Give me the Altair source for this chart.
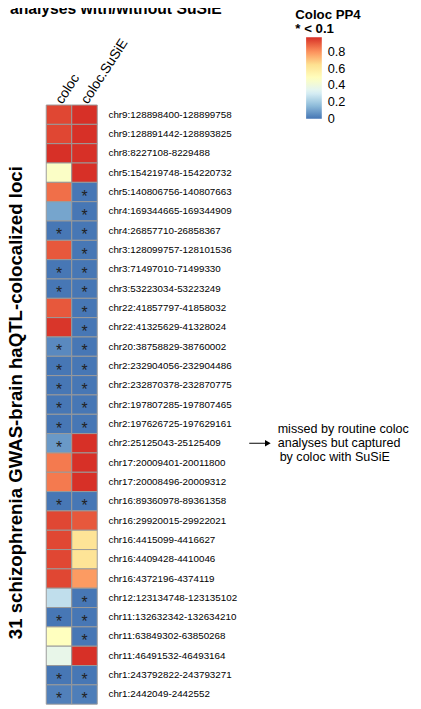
import altair as alt
import pandas as pd

loci = [
    "chr9:128898400-128899758", "chr9:128891442-128893825", "chr8:8227108-8229488",
    "chr5:154219748-154220732", "chr5:140806756-140807663", "chr4:169344665-169344909",
    "chr4:26857710-26858367", "chr3:128099757-128101536", "chr3:71497010-71499330",
    "chr3:53223034-53223249", "chr22:41857797-41858032", "chr22:41325629-41328024",
    "chr20:38758829-38760002", "chr2:232904056-232904486", "chr2:232870378-232870775",
    "chr2:197807285-197807465", "chr2:197626725-197629161", "chr2:25125043-25125409",
    "chr17:20009401-20011800", "chr17:20008496-20009312", "chr16:89360978-89361358",
    "chr16:29920015-29922021", "chr16:4415099-4416627", "chr16:4409428-4410046",
    "chr16:4372196-4374119", "chr12:123134748-123135102", "chr11:132632342-132634210",
    "chr11:63849302-63850268", "chr11:46491532-46493164", "chr1:243792822-243793271",
    "chr1:2442049-2442552",
]
coloc = [0.94, 0.94, 0.98, 0.47, 0.87, 0.105, 0.004, 0.91, 0.004, 0.004, 0.91,
         0.97, 0.045, 0.004, 0.004, 0.004, 0.004, 0.08, 0.85, 0.85, 0.004, 0.94,
         0.94, 0.94, 0.94, 0.26, 0.004, 0.49, 0.37, 0.004, 0.025]
coloc_susie = [0.98, 0.98, 0.98, 0.98, 0.004, 0.004, 0.004, 0.004, 0.004, 0.004,
               0.004, 0.004, 0.004, 0.004, 0.004, 0.004, 0.004, 0.98, 0.98, 0.98,
               0.004, 0.91, 0.63, 0.63, 0.79, 0.004, 0.004, 0.004, 0.98, 0.004, 0.02]
methods = ["coloc", "coloc.SuSiE"]
legend_ticks = [0.001, 0.2, 0.4, 0.6, 0.8]
palette = ["#4575b4", "#91bfdb", "#e0f3f8", "#ffffbf", "#fee090", "#fc8d59", "#d73027"]
threshold = 0.1
highlight_locus = "chr2:25125043-25125409"
note_lines = ["missed by routine coloc", "analyses but captured", "by coloc with SuSiE"]
title_text = "analyses with/without SuSiE"
y_title = "31 schizophrenia GWAS-brain haQTL-colocalized loci"

rows = []
for i, loc in enumerate(loci):
    for m, v in zip(methods, [coloc[i], coloc_susie[i]]):
        rows.append({"locus": loc, "method": m, "pp4": v,
                     "star": "*" if v < threshold else ""})
df = pd.DataFrame(rows)

vmax = max(coloc + coloc_susie)
dom = [vmax * k / 6 for k in range(7)]

FONT = "Liberation Sans"
W, H = 52, 611

X_PLAIN = alt.X("method:N", sort=methods, title=None)
Y_PLAIN = alt.Y("locus:N", sort=loci, title=None)

xenc = alt.X("method:N", sort=methods, title=None,
             axis=alt.Axis(orient="top", labelAngle=-57, labelAlign="left",
                           labelBaseline="middle", labelPadding=3, ticks=False,
                           domain=False, labelFontSize=14, labelFont=FONT,
                           labelColor="black"))
yenc = alt.Y("locus:N", sort=loci, title=None,
             axis=alt.Axis(orient="right", labelAlign="left", labelPadding=11,
                           ticks=False, domain=False, labelFontSize=10,
                           labelFont=FONT, labelColor="black"))

heat = alt.Chart(df).mark_rect(stroke="#9a9a9a", strokeWidth=1).encode(
    x=xenc,
    y=yenc,
    color=alt.Color("pp4:Q",
                    scale=alt.Scale(domain=dom, range=palette, interpolate="rgb"),
                    legend=alt.Legend(title=None, orient="none", legendX=265, legendY=-69,
                                      direction="vertical", gradientLength=83,
                                      gradientThickness=16, values=legend_ticks,
                                      format=".1~f", labelFontSize=13, labelFont=FONT,
                                      labelColor="black", labelOffset=6,
                                      labelOverlap=False, padding=0,
                                      gradientStrokeWidth=0)),
)

stars = alt.Chart(df).mark_text(fontSize=16, font=FONT, color="#222222", dy=5,
                                baseline="middle").encode(
    x=X_PLAIN, y=Y_PLAIN, text="star:N",
)

ann_df = pd.DataFrame({"locus": [highlight_locus]})
arrow_line = alt.Chart(ann_df).mark_rule(color="black", strokeWidth=1).encode(
    y=Y_PLAIN, x=alt.value(207), x2=alt.value(226),
)
arrow_head = alt.Chart(ann_df).mark_point(shape="triangle-right", filled=True,
                                          color="black", size=45, opacity=1).encode(
    y=Y_PLAIN, x=alt.value(226),
)
notes = []
for line, dy, dx in zip(note_lines, [-14, 0, 14], [0, 0, 2]):
    notes.append(
        alt.Chart(ann_df).mark_text(align="left", baseline="middle", fontSize=12.8,
                                    font=FONT, color="black", dy=dy, dx=dx).encode(
            y=Y_PLAIN, x=alt.value(236), text=alt.value(line),
        )
    )

ytitle = alt.Chart(ann_df).mark_text(angle=270, align="center", baseline="middle",
                                     fontSize=19, fontWeight="bold", font=FONT,
                                     color="black").encode(
    x=alt.value(-31), y=alt.value(H / 2 - 2), text=alt.value(y_title))

top_title = alt.Chart(ann_df).mark_text(align="left", baseline="alphabetic",
                                        fontSize=16, fontWeight="bold", font=FONT,
                                        color="black").encode(
    x=alt.value(-37), y=alt.value(-93), text=alt.value(title_text))

leg_t1 = alt.Chart(ann_df).mark_text(align="left", baseline="middle", fontSize=13.5,
                                     fontWeight="bold", font=FONT, color="black").encode(
    x=alt.value(254), y=alt.value(-92), text=alt.value("Coloc PP4"))
leg_t2 = alt.Chart(ann_df).mark_text(align="left", baseline="middle", fontSize=13.5,
                                     fontWeight="bold", font=FONT, color="black").encode(
    x=alt.value(254), y=alt.value(-77), text=alt.value("* < 0.1"))

chart = alt.layer(heat, stars, arrow_line, arrow_head, *notes, ytitle, top_title,
                  leg_t1, leg_t2).properties(
    width=W, height=H,
    autosize=alt.AutoSizeParams(type="none"),
    padding={"left": 39, "top": 92, "right": 322, "bottom": 0},
).configure_view(stroke=None)

chart.save("out.html", embed_options={"renderer": "svg", "actions": False})
